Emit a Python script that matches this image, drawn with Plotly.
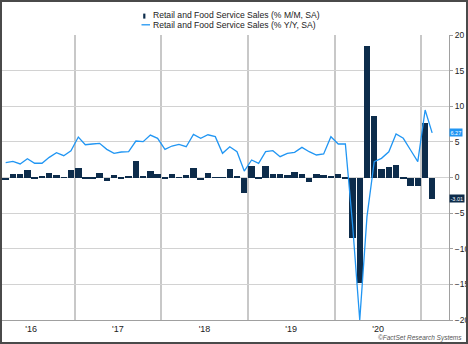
import pandas as pd
import plotly.graph_objects as go

# ---------------- data ----------------
months = pd.period_range("2016-03", "2021-02", freq="M").strftime("%Y-%m").tolist()

mm_sales = [
    # 2016 Mar-Dec
    -0.37, 0.5, 0.45, 1.0, -0.1, 0.1, 0.7, 0.33, -0.05, 1.1,
    # 2017
    1.3, -0.1, -0.1, 0.65, -0.5, 0.4, -0.1, 0.1, 2.25, 0.2, 0.85, 0.5,
    # 2018
    -0.1, 0.5, -0.05, 0.3, 1.35, -0.3, 0.65, -0.05, -0.05, 1.2, 0.1, -2.15,
    # 2019
    1.55, -0.1, 1.6, 0.5, 0.45, 0.3, 0.75, 0.5, -0.65, 0.5, 0.35, 0.22,
    # 2020
    0.5, -0.1, -8.5, -14.8, 18.4, 8.65, 1.2, 1.5, 1.8, -0.1, -1.25, -1.25,
    # 2021 Jan-Feb
    7.6, -3.01,
]

yy_sales = [
    # 2016 Mar-Dec
    2.08, 2.27, 1.9, 2.64, 2.0, 2.0, 2.83, 3.48, 3.06, 3.76,
    # 2017
    5.68, 4.6, 4.7, 4.8, 3.95, 3.39, 3.58, 3.62, 5.12, 5.03, 5.96, 5.5,
    # 2018
    3.95, 4.42, 4.65, 4.32, 6.06, 5.5, 6.0, 5.73, 3.39, 4.32, 3.62, 0.91,
    # 2019
    2.46, 1.99, 3.62, 3.77, 2.92, 3.39, 3.53, 4.23, 3.62, 3.16, 3.3, 5.73,
    # 2020
    4.7, 4.7, -6.5, -20.0, -5.5, 2.22, 2.69, 3.6, 6.1, 5.5, 3.86, 2.22,
    # 2021 Jan-Feb
    9.47, 6.27,
]

year_labels = ["'16", "'17", "'18", "'19", "'20"]
label_years = [2016, 2017, 2018, 2019, 2020]
grid_years = [2017, 2018, 2019, 2020, 2021]

name_mm = "Retail and Food Service Sales (% M/M, SA)"
name_yy = "Retail and Food Service Sales (% Y/Y, SA)"

# ---------------- styling ----------------
W, H = 468, 344
ML, MR, MT, MB = 2, 19, 35, 24
PW, PH = W - ML - MR, H - MT - MB

NAVY = "#0d2c4b"
BLUE = "#2196f3"
GRID = "#d2d2d2"
VGRID = "#c8c8c8"
AXIS = "#a0a0a0"
FONT = "Liberation Sans, Arial, sans-serif"


def px_x(px):
    return (px - ML) / PW


def px_y(py):
    return (H - MB - py) / PH


# month centres (mid-month) for plotting
periods = pd.PeriodIndex(months, freq="M")
centers = [p.start_time + (p.end_time - p.start_time) / 2 for p in periods]

fig = go.Figure()
fig.add_trace(go.Bar(
    x=centers, y=mm_sales, name=name_mm,
    marker=dict(color=NAVY, line=dict(width=0)),
    width=27 * 86400000,
))
fig.add_trace(go.Scatter(
    x=centers, y=yy_sales, name=name_yy, mode="lines",
    line=dict(color=BLUE, width=1.3),
))

fig.update_layout(
    width=W, height=H,
    margin=dict(l=ML, r=MR, t=MT, b=MB, autoexpand=False),
    paper_bgcolor="white", plot_bgcolor="white",
    showlegend=False,
    font=dict(family=FONT, size=9, color="#222"),
    bargap=0,
)

fig.update_xaxes(
    type="date",
    range=["2016-03-01", "2021-04-27"],
    tickmode="array",
    tickvals=[f"{y}-07-02" for y in label_years],
    ticktext=year_labels,
    ticks="", showgrid=False,
    showline=True, linecolor=AXIS, linewidth=1,
    tickfont=dict(size=9, color="#222"),
    minor=dict(tickmode="array", tickvals=[f"{y}-01-01" for y in grid_years],
               showgrid=True, gridcolor=VGRID, gridwidth=1.5, ticks=""),
    zeroline=False,
)

fig.update_yaxes(
    side="right", range=[-20, 20], dtick=5, tick0=0,
    showgrid=False, zeroline=False,
    showline=True, linecolor=AXIS, linewidth=1,
    ticks="outside", ticklen=3, tickcolor=AXIS,
    tickfont=dict(size=8.5, color="#222"),
    minor=dict(tickmode="array", tickvals=[-15, -10, -5, 0, 5, 10, 15],
               showgrid=True, gridcolor=GRID, gridwidth=1, ticks=""),
)

# ----- last value tags on the right axis -----
fig.add_annotation(x=1, xref="paper", xanchor="left", y=yy_sales[-1], yref="y",
                   text=f"{yy_sales[-1]:.2f}", showarrow=False,
                   font=dict(size=5.5, color="white", family=FONT),
                   bgcolor=BLUE, borderpad=0.5)
fig.add_annotation(x=1, xref="paper", xanchor="left", y=mm_sales[-1], yref="y",
                   text=f"{mm_sales[-1]:.2f}", showarrow=False,
                   font=dict(size=5.5, color="white", family=FONT),
                   bgcolor=NAVY, borderpad=0.5)

# ----- manual legend -----
fig.add_shape(type="rect", xref="paper", yref="paper",
              x0=px_x(143.2), x1=px_x(145.4), y0=px_y(18.6), y1=px_y(13.6),
              fillcolor=NAVY, line=dict(width=0))
fig.add_shape(type="line", xref="paper", yref="paper",
              x0=px_x(141.5), x1=px_x(150), y0=px_y(24.8), y1=px_y(24.8),
              line=dict(color=BLUE, width=1.3))
fig.add_annotation(x=px_x(151), xref="paper", xanchor="left",
                   y=px_y(15.4), yref="paper", yanchor="middle",
                   text=name_mm, showarrow=False,
                   font=dict(size=8.6, color="#222", family=FONT))
fig.add_annotation(x=px_x(151), xref="paper", xanchor="left",
                   y=px_y(25.0), yref="paper", yanchor="middle",
                   text=name_yy, showarrow=False,
                   font=dict(size=8.6, color="#222", family=FONT))

# ----- source -----
fig.add_annotation(x=px_x(464), xref="paper", xanchor="right",
                   y=px_y(337.7), yref="paper", yanchor="middle",
                   text="©FactSet Research Systems", showarrow=False,
                   font=dict(size=6.5, color="#555", family=FONT, style="italic"))

# ----- outer frame -----
fig.add_shape(type="rect", xref="paper", yref="paper",
              x0=px_x(1), x1=px_x(467), y0=px_y(343), y1=px_y(1),
              line=dict(color="#4a4a4a", width=2), fillcolor="rgba(0,0,0,0)",
              layer="above")

fig.write_html("out.html")
